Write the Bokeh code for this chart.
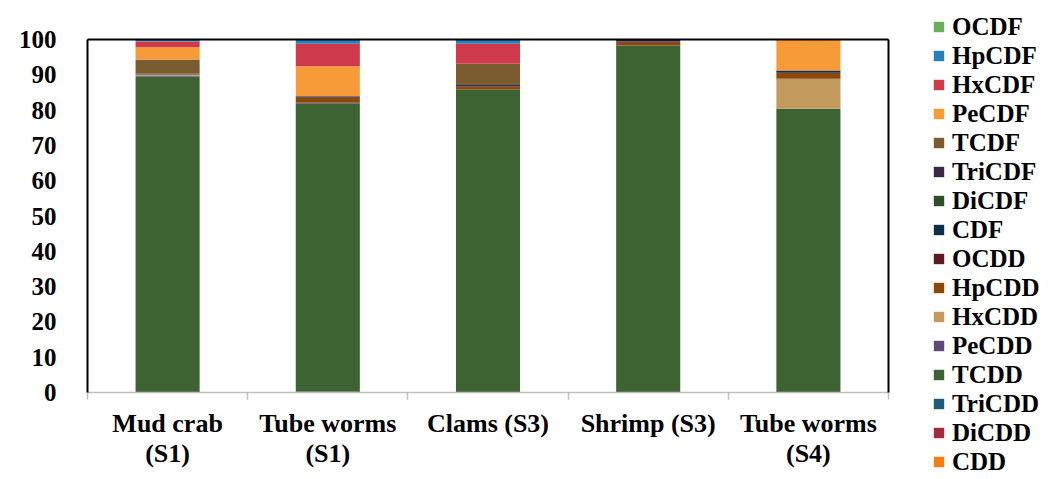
from bokeh.plotting import figure
from bokeh.layouts import row
from bokeh.models import Range1d, LinearAxis, FixedTicker, Legend, LegendItem, Grid
from bokeh.embed import file_html
from bokeh.resources import INLINE

categories = ["Mud crab\n(S1)", "Tube worms\n(S1)", "Clams (S3)", "Shrimp (S3)", "Tube worms\n(S4)"]
congeners = ["CDD", "DiCDD", "TriCDD", "TCDD", "PeCDD", "HxCDD", "HpCDD", "OCDD",
             "CDF", "DiCDF", "TriCDF", "TCDF", "PeCDF", "HxCDF", "HpCDF", "OCDF"]
colors = ["#f07f10", "#a32a3a", "#1f5a7a", "#3d6332", "#604a7a", "#c29a5e", "#8c4a0a", "#5e1a20",
          "#10304a", "#2f4f2a", "#3b2a45", "#7b5c2e", "#f79a3a", "#cf3a4a", "#2a80b9", "#6aaf5a"]

CDD    = [0.0, 0.0, 0.0, 0.0, 0.0]
DiCDD  = [0.0, 0.2, 0.0, 0.0, 0.0]
TriCDD = [0.0, 0.0, 0.0, 0.0, 0.0]
TCDD   = [89.5, 81.6, 85.8, 98.3, 80.4]
PeCDD  = [0.3, 0.3, 0.0, 0.0, 0.0]
HxCDD  = [0.3, 0.0, 0.0, 0.0, 8.5]
HpCDD  = [0.0, 1.4, 0.9, 0.8, 1.7]
OCDD   = [0.0, 0.0, 0.0, 0.3, 0.0]
CDF    = [0.0, 0.0, 0.0, 0.0, 0.6]
DiCDF  = [0.0, 0.0, 0.0, 0.0, 0.0]
TriCDF = [0.2, 0.4, 0.6, 0.6, 0.0]
TCDF   = [4.0, 0.0, 5.8, 0.0, 0.0]
PeCDF  = [3.5, 8.5, 0.0, 0.0, 8.8]
HxCDF  = [1.6, 6.4, 5.7, 0.0, 0.0]
HpCDF  = [0.6, 1.2, 1.2, 0.0, 0.0]
OCDF   = [0.0, 0.0, 0.0, 0.0, 0.0]

series = [CDD, DiCDD, TriCDD, TCDD, PeCDD, HxCDD, HpCDD, OCDD,
          CDF, DiCDF, TriCDF, TCDF, PeCDF, HxCDF, HpCDF, OCDF]
y_ticks = [0, 10, 20, 30, 40, 50, 60, 70, 80, 90, 100]

FONT = "Liberation Serif"
n = len(categories)
xs = [i + 0.5 for i in range(n)]
data = {"x": xs}
for name, vals in zip(congeners, series):
    data[name] = vals

p = figure(width=895, height=475, output_backend="svg", toolbar_location=None,
           x_range=Range1d(0, n), y_range=Range1d(0, 100),
           x_axis_location=None, y_axis_location=None,
           min_border_left=87, min_border_right=7, min_border_top=39, min_border_bottom=83)
p.outline_line_color = None
p.center = [r for r in p.center if not isinstance(r, Grid)]
p.background_fill_color = "white"
p.border_fill_color = "white"

p.vbar_stack(congeners, x="x", width=0.4, source=data, color=colors, line_color=None)

# y axis
ya = LinearAxis(ticker=FixedTicker(ticks=y_ticks))
ya.axis_line_color = "black"
ya.axis_line_width = 2
ya.major_tick_line_color = None
ya.minor_tick_line_color = None
ya.major_label_standoff = 25
ya.major_label_text_font = FONT
ya.major_label_text_font_style = "bold"
ya.major_label_text_font_size = "25px"
ya.major_label_text_color = "black"
p.add_layout(ya, "left")

# top and right frame lines
for loc in ("above", "right"):
    ax = LinearAxis(ticker=FixedTicker(ticks=[]))
    ax.axis_line_color = "black"
    ax.axis_line_width = 2
    ax.major_tick_line_color = None
    ax.minor_tick_line_color = None
    ax.major_label_text_color = None
    ax.major_label_text_font_size = "1px"
    ax.major_label_standoff = 0
    p.add_layout(ax, loc)

# bottom axis: boundary ticks
bounds = list(range(n + 1))
xb = LinearAxis(ticker=FixedTicker(ticks=bounds))
xb.axis_line_color = "#bfbfbf"
xb.axis_line_width = 1.5
xb.major_tick_line_color = "#bfbfbf"
xb.major_tick_line_width = 1.5
xb.major_tick_out = 7
xb.major_tick_in = 0
xb.minor_tick_line_color = None
xb.major_label_text_color = None
xb.major_label_text_font_size = "1px"
xb.major_label_standoff = 0
p.add_layout(xb, "below")

# bottom axis: category labels
xl = LinearAxis(ticker=FixedTicker(ticks=xs))
xl.major_label_overrides = {x: c for x, c in zip(xs, categories)}
xl.axis_line_color = None
xl.major_tick_line_color = None
xl.minor_tick_line_color = None
xl.major_label_standoff = 3
xl.major_label_text_font = FONT
xl.major_label_text_font_style = "bold"
xl.major_label_text_font_size = "26px"
xl.major_label_text_color = "black"
xl.major_label_text_line_height = 1.05
p.add_layout(xl, "below")

# legend panel (separate figure, its stacked bars lie outside its view)
q = figure(width=155, height=475, output_backend="svg", toolbar_location=None,
           x_range=Range1d(100, 101), y_range=Range1d(200, 201),
           x_axis_location=None, y_axis_location=None,
           min_border_left=0, min_border_right=0, min_border_top=0, min_border_bottom=0)
q.outline_line_color = None
q.center = [r for r in q.center if not isinstance(r, Grid)]
q.background_fill_color = "white"
q.border_fill_color = "white"
q_renderers = q.vbar_stack(congeners, x="x", width=0.4, source=data, color=colors, line_color=None)

for fig in (p, q):
    if "frame_align" in fig.properties():
        fig.frame_align = False

items = [LegendItem(label=name, renderers=[r]) for name, r in reversed(list(zip(congeners, q_renderers)))]
legend = Legend(items=items, location=(37, -1))
legend.background_fill_alpha = 0
legend.border_line_color = None
legend.padding = 0
legend.margin = 0
legend.spacing = 0
legend.glyph_width = 13
legend.glyph_height = 13
legend.label_standoff = 7
legend.label_text_font = FONT
legend.label_text_font_style = "bold"
legend.label_text_font_size = "25px"
legend.label_text_line_height = 1.0
legend.label_text_color = "black"
legend.label_height = 29
q.add_layout(legend, "center")

open("out.html", "w").write(file_html(row(p, q, spacing=0), INLINE))
